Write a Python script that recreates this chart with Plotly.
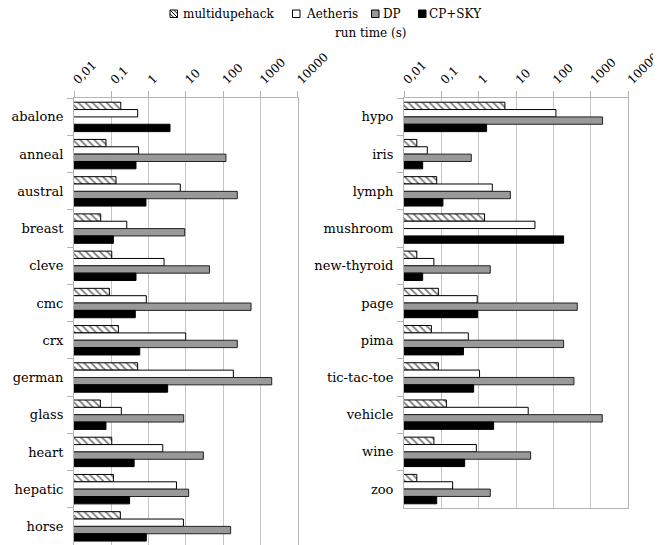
import plotly.graph_objects as go

# ---------------- data ----------------
left_categories = ["abalone", "anneal", "austral", "breast", "cleve", "cmc", "crx",
                   "german", "glass", "heart", "hepatic", "horse"]
left_multidupehack = [0.18, 0.072, 0.134, 0.052, 0.103, 0.089, 0.155, 0.51, 0.051, 0.103, 0.114, 0.175]
left_aetheris = [0.51, 0.54, 7.1, 0.26, 2.6, 0.87, 9.9, 188, 0.186, 2.4, 5.6, 8.6]
left_dp = [None, 119, 240, 9.3, 43, 560, 240, 2010, 8.75, 29.5, 11.9, 159]
left_cpsky = [3.76, 0.46, 0.85, 0.114, 0.46, 0.44, 0.58, 3.25, 0.072, 0.41, 0.31, 0.87]

right_categories = ["hypo", "iris", "lymph", "mushroom", "new-thyroid", "page", "pima",
                    "tic-tac-toe", "vehicle", "wine", "zoo"]
right_multidupehack = [5.0, 0.022, 0.075, 1.43, 0.022, 0.083, 0.054, 0.083, 0.136, 0.063, 0.022]
right_aetheris = [116, 0.042, 2.3, 31.8, 0.063, 0.91, 0.525, 1.05, 21, 0.86, 0.2]
right_dp = [2050, 0.63, 7.0, None, 2.03, 431, 186, 351, 2010, 24.4, 2.03]
right_cpsky = [1.62, 0.0316, 0.11, 186, 0.0316, 0.93, 0.39, 0.73, 2.5, 0.42, 0.075]

series_names = ["multidupehack", "Aetheris", "DP", "CP+SKY"]
tick_values = [0.01, 0.1, 1, 10, 100, 1000, 10000]
tick_labels = ["0,01", "0,1", "1", "10", "100", "1000", "10000"]
axis_title = "run time (s)"

# ---------------- styling ----------------
PAGE_OFF = 8                 # default body margin of the page
W, H = 661 - PAGE_OFF, 545 - PAGE_OFF
FONT = "'DejaVu Serif', 'Liberation Serif', serif"
GRID = "#c4c4c4"
LINE = "#b4b4b4"

styles = [
    dict(color="white", line=dict(color="black", width=1),
         pattern=dict(shape="\\", fgcolor="black", bgcolor="white", size=5, solidity=0.35)),
    dict(color="white", line=dict(color="black", width=1)),
    dict(color="#999999", line=dict(color="#222222", width=1)),
    dict(color="black", line=dict(color="black", width=1)),
]


def px(x):
    return min(max((x - PAGE_OFF) / W, 0), 1)


def py(y):
    return min(max(1 - (y - PAGE_OFF) / H, 0), 1)


fig = go.Figure()

left_series = [left_multidupehack, left_aetheris, left_dp, left_cpsky]
right_series = [right_multidupehack, right_aetheris, right_dp, right_cpsky]

for name, vals, st in zip(series_names, left_series, styles):
    fig.add_trace(go.Bar(y=left_categories, x=vals, orientation="h", name=name,
                         marker=st, xaxis="x", yaxis="y", showlegend=False))
for name, vals, st in zip(series_names, right_series, styles):
    fig.add_trace(go.Bar(y=right_categories, x=vals, orientation="h", name=name,
                         marker=st, xaxis="x2", yaxis="y2", showlegend=False))

top = py(98.3)
xaxis_common = dict(
    type="log", range=[-2, 4], side="top",
    tickvals=tick_values, ticktext=tick_labels, tickangle=-45,
    ticklabeloverflow="allow",
    showgrid=True, gridcolor=GRID, gridwidth=1,
    showline=True, linecolor=LINE, linewidth=1, mirror=True,
    ticks="outside", ticklen=6, tickcolor=LINE,
    tickfont=dict(family=FONT, size=12, color="black"),
    zeroline=False, fixedrange=True, automargin=False,
)
yaxis_common = dict(
    type="category", autorange="reversed",
    showgrid=False, showline=True, linecolor=LINE, linewidth=1, mirror=True,
    ticks="outside", ticklen=6, tickcolor=LINE, tickson="boundaries",
    ticklabelstandoff=7,
    tickfont=dict(family=FONT, size=13, color="black"),
    zeroline=False, fixedrange=True, automargin=False,
)

fig.update_layout(
    width=W, height=H,
    margin=dict(l=0, r=0, t=0, b=0, pad=0, autoexpand=False),
    paper_bgcolor="white", plot_bgcolor="white",
    barmode="group", bargap=0.21, bargroupgap=0,
    showlegend=False,
    xaxis=dict(domain=[px(74), px(297.7)], anchor="y", **xaxis_common),
    yaxis=dict(domain=[py(545), top], anchor="x", **yaxis_common),
    xaxis2=dict(domain=[px(404), px(628.3)], anchor="y2", **xaxis_common),
    yaxis2=dict(domain=[py(507.7), top], anchor="x2", **yaxis_common),
)

# ---------------- manual legend ----------------
legend_items = [
    (170.0, 180.5),
    (292.5, 304.0),
    (371.5, 381.0),
    (418.5, 427.0),
]
fills = ["white", "white", "#999999", "black"]
ly0, ly1 = 10.0, 17.5
shapes = []
annotations = []
for (sx, tx), fill, name in zip(legend_items, fills, series_names):
    shapes.append(dict(type="rect", xref="paper", yref="paper",
                       x0=px(sx), x1=px(sx + 7.5), y0=py(ly1), y1=py(ly0),
                       fillcolor=fill, line=dict(color="black", width=1)))
    annotations.append(dict(text=name, xref="paper", yref="paper",
                            x=px(tx), y=py(13.8), xanchor="left", yanchor="middle",
                            showarrow=False, font=dict(family=FONT, size=12, color="black")))

# hatch lines in the first legend square
sx = legend_items[0][0]
for (a0, b0, a1, b1) in [(0, 0, 7.5, 7.5), (0, 3.7, 3.8, 7.5), (3.7, 0, 7.5, 3.8)]:
    shapes.append(dict(type="line", xref="paper", yref="paper",
                       x0=px(sx + a0), y0=py(ly0 + b0), x1=px(sx + a1), y1=py(ly0 + b1),
                       line=dict(color="black", width=1)))

annotations.append(dict(text=axis_title, xref="paper", yref="paper",
                        x=px(370), y=py(33), xanchor="center", yanchor="middle",
                        showarrow=False, font=dict(family=FONT, size=12, color="black")))

fig.update_layout(shapes=shapes, annotations=annotations)

fig.write_html("out.html")
